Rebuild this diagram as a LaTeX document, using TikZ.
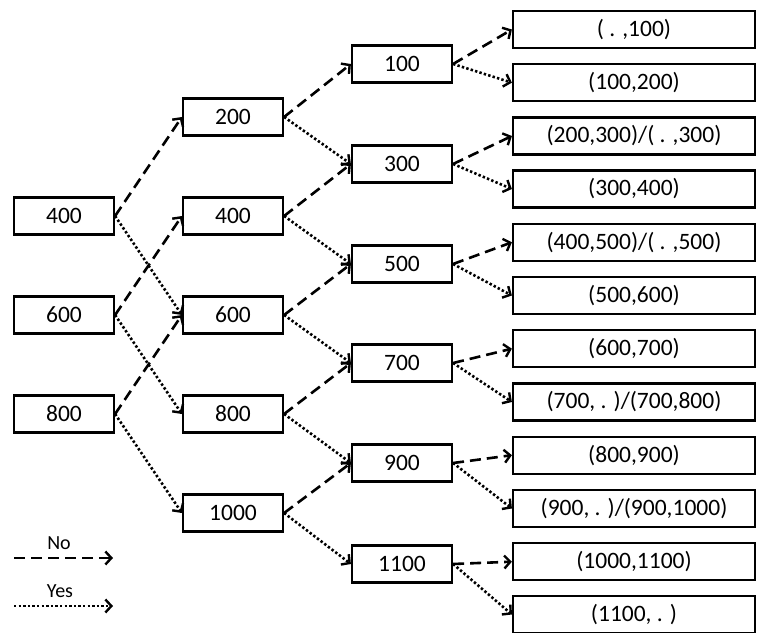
\documentclass[tikz,border=0pt]{standalone}
\usepackage{fontspec}
\setmainfont{Carlito}
\usetikzlibrary{arrows.meta}
\begin{document}
\begin{tikzpicture}[x=1bp,y=-1bp,
  box/.style={draw,line width=2.2bp,minimum width=100bp,minimum height=37bp,inner sep=0pt,font=\fontsize{23.5bp}{27bp}\selectfont},
  leaf/.style={box,minimum width=242bp},
  noarr/.style={line width=2.6bp,dash pattern=on 11bp off 6bp,-{Straight Barb[length=6bp,width=13bp,line width=2.4bp]}},
  yesarr/.style={line width=2.6bp,dash pattern=on 2.4bp off 2.2bp,-{Straight Barb[length=6bp,width=13bp,line width=2.4bp]}},
  lbl/.style={font=\fontsize{20bp}{23bp}\selectfont,inner sep=0pt}]
\useasboundingbox (0,0) rectangle (757,633);
% column 1
\node[box] (a400) at (64,216) {400};
\node[box] (a600) at (64,315) {600};
\node[box] (a800) at (64,414) {800};
% column 2
\node[box] (b200) at (233,117) {200};
\node[box] (b400) at (233,216) {400};
\node[box] (b600) at (233,315) {600};
\node[box] (b800) at (233,414) {800};
\node[box] (b1000) at (233,513) {1000};
% column 3
\node[box] (c100) at (402,64) {100};
\node[box] (c300) at (402,164) {300};
\node[box] (c500) at (402,264) {500};
\node[box] (c700) at (402,363) {700};
\node[box] (c900) at (402,463) {900};
\node[box] (c1100) at (402,564) {1100};
% leaves
\node[leaf] (l1) at (634,29.5) {( . ,100)};
\node[leaf] (l2) at (634,82.7) {(100,200)};
\node[leaf] (l3) at (634,136) {(200,300)/( . ,300)};
\node[leaf] (l4) at (634,189) {(300,400)};
\node[leaf] (l5) at (634,242.3) {(400,500)/( . ,500)};
\node[leaf] (l6) at (634,295.5) {(500,600)};
\node[leaf] (l7) at (634,348.7) {(600,700)};
\node[leaf] (l8) at (634,402) {(700, . )/(700,800)};
\node[leaf] (l9) at (634,455.2) {(800,900)};
\node[leaf] (l10) at (634,508.5) {(900, . )/(900,1000)};
\node[leaf] (l11) at (634,561.7) {(1000,1100)};
\node[leaf] (l12) at (634,614.5) {(1100, . )};
% column 1 -> 2
\draw[noarr] (a400.east) -- (b200.west);
\draw[yesarr] (a400.east) -- (b600.west);
\draw[noarr] (a600.east) -- (b400.west);
\draw[yesarr] (a600.east) -- (b800.west);
\draw[noarr] (a800.east) -- (b600.west);
\draw[yesarr] (a800.east) -- (b1000.west);
% column 2 -> 3
\draw[noarr] (b200.east) -- (c100.west);
\draw[yesarr] (b200.east) -- (c300.west);
\draw[noarr] (b400.east) -- (c300.west);
\draw[yesarr] (b400.east) -- (c500.west);
\draw[noarr] (b600.east) -- (c500.west);
\draw[yesarr] (b600.east) -- (c700.west);
\draw[noarr] (b800.east) -- (c700.west);
\draw[yesarr] (b800.east) -- (c900.west);
\draw[noarr] (b1000.east) -- (c900.west);
\draw[yesarr] (b1000.east) -- (c1100.west);
% column 3 -> leaves
\draw[noarr] (c100.east) -- (l1.west);
\draw[yesarr] (c100.east) -- (l2.west);
\draw[noarr] (c300.east) -- (l3.west);
\draw[yesarr] (c300.east) -- (l4.west);
\draw[noarr] (c500.east) -- (l5.west);
\draw[yesarr] (c500.east) -- (l6.west);
\draw[noarr] (c700.east) -- (l7.west);
\draw[yesarr] (c700.east) -- (l8.west);
\draw[noarr] (c900.east) -- (l9.west);
\draw[yesarr] (c900.east) -- (l10.west);
\draw[noarr] (c1100.east) -- (l11.west);
\draw[yesarr] (c1100.east) -- (l12.west);
% legend
\coordinate (n1) at (14,558);
\coordinate (n2) at (113,558);
\coordinate (y1) at (14,606);
\coordinate (y2) at (113,606);
\node[lbl] (nolbl) at (59,543) {No};
\node[lbl] (yeslbl) at (60,591) {Yes};
\draw[noarr] (n1) -- (n2);
\draw[yesarr] (y1) -- (y2);
\end{tikzpicture}
\end{document}
